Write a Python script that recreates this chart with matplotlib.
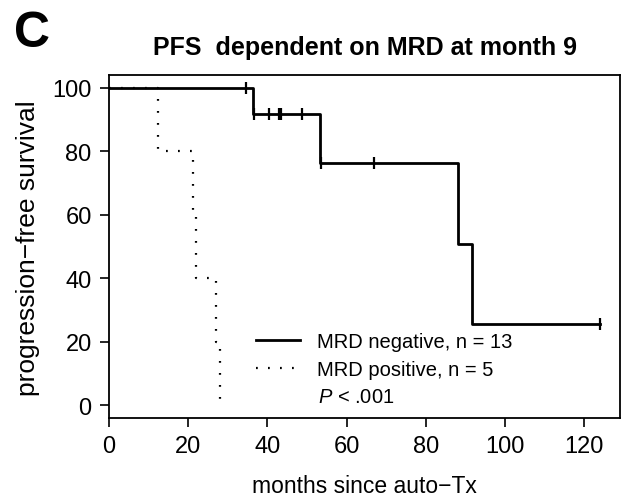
import matplotlib
matplotlib.use("Agg")
import matplotlib.pyplot as plt

plt.rcParams['font.family'] = ['Liberation Sans', 'DejaVu Sans']
plt.rcParams['mathtext.fontset'] = 'custom'
plt.rcParams['mathtext.rm'] = 'Liberation Sans'
plt.rcParams['mathtext.it'] = 'Liberation Sans:italic'

# MRD negative (solid) - step curve
neg_t = [0, 36.3, 53.2, 88.1, 91.7, 124.0]
neg_s = [100, 91.7, 76.4, 50.9, 25.5, 25.5]
neg_cens_t = [34.6, 36.6, 40.3, 42.9, 43.4, 48.8, 53.4, 67.0, 124.0]
neg_cens_s = [100, 91.7, 91.7, 91.7, 91.7, 91.7, 76.4, 76.4, 25.5]

# MRD positive (dotted)
pos_t = [0, 12.3, 21.3, 22.0, 26.9, 28.0]
pos_s = [100, 80, 60, 40, 20, 0]

labels = ['MRD negative, n = 13', 'MRD positive, n = 5']
x_ticks = [0, 20, 40, 60, 80, 100, 120]
y_ticks = [0, 20, 40, 60, 80, 100]

fig = plt.figure(figsize=(6.29, 5.02), dpi=100)
ax = fig.add_axes([0.1733, 0.1653, 0.8124, 0.6833])

ax.step(pos_t, pos_s, where='post', color='black', lw=1.6,
        linestyle=(0, (0.8, 4.6)), label=labels[1], zorder=2)
ax.step(neg_t, neg_s, where='post', color='black', lw=2.0, label=labels[0],
        zorder=3)
ax.plot(neg_cens_t, neg_cens_s, linestyle='none', marker='|', color='black',
        markersize=9, markeredgewidth=1.6, zorder=3)

ax.set_xlim(0, 129)
ax.set_ylim(-4, 104)
ax.set_xticks(x_ticks)
ax.set_yticks(y_ticks)
ax.tick_params(direction='out', length=6.5, width=1.2, labelsize=17, pad=6)
for sp in ax.spines.values():
    sp.set_linewidth(1.3)

h, l = ax.get_legend_handles_labels()
ax.legend(h[::-1], l[::-1], loc='upper left', bbox_to_anchor=(0.288, 0.252),
          frameon=False, fontsize=14.5, handlelength=2.2, handletextpad=0.8,
          labelspacing=0.45, borderpad=0, borderaxespad=0)
ax.text(0.409, 0.064, r'$\it{P}$ < .001', transform=ax.transAxes,
        fontsize=14.5, va='center', ha='left')

ax.text(0.5, 1.061, 'PFS  dependent on MRD at month 9', transform=ax.transAxes,
        ha='center', va='baseline', fontsize=18, fontweight='bold')
fig.text(0.022, 0.906, 'C', fontsize=36, fontweight='bold', ha='left', va='baseline')
fig.text(0.0445, 0.505, 'progression\u2212free survival', rotation=90,
         fontsize=19, ha='center', va='center')
fig.text(0.5795, 0.018, 'months since auto\u2212Tx', fontsize=16.5,
         ha='center', va='baseline')

fig.savefig('out.png', dpi=100)
